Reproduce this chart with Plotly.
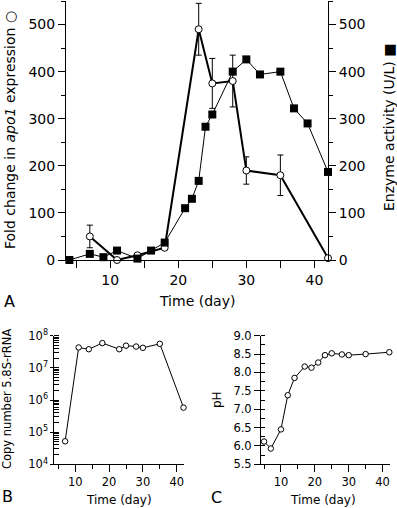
import plotly.graph_objects as go

# ---------------- data ----------------
# Panel A: apo1 expression (open circles, with error bars)
apo_day = [7, 11, 14, 18, 23, 25, 28, 30, 35, 42]
apo_fold = [50, 0, 10, 26, 490, 375, 380, 190, 180, 4]
apo_err = [24, 0, 0, 0, 55, 53, 55, 29, 43, 0]

# Panel A: enzyme activity (filled squares)
enz_day = [4, 7, 9, 11, 14, 16, 18, 21, 22, 23, 24, 25, 28, 30, 32, 35, 37, 39, 42]
enz_act = [0, 13, 6, 20, 3, 20, 37, 110, 130, 168, 283, 309, 400, 426, 394, 400, 322, 290, 187]

# Panel B: copy number 5.8S-rRNA
cop_day = [7, 11, 14, 18, 23, 25, 28, 30, 35, 42]
cop_num = [5.2e4, 4.3e7, 3.8e7, 5.9e7, 3.8e7, 4.9e7, 4.6e7, 4.2e7, 5.6e7, 5.8e5]

# Panel C: pH
ph_day = [5, 7, 10, 12, 14, 17, 19, 21, 23, 25, 28, 30, 35, 42]
ph_val = [6.12, 5.93, 6.45, 7.38, 7.85, 8.16, 8.13, 8.27, 8.47, 8.52, 8.49, 8.47, 8.50, 8.55]

x_ticks = [10, 20, 30, 40]
logB_tickvals = [1e4, 1e5, 1e6, 1e7, 1e8]
logB_ticktext = ["10<sup>4</sup>", "10<sup>5</sup>", "10<sup>6</sup>", "10<sup>7</sup>", "10<sup>8</sup>"]

FONT = "DejaVu Sans"
W, H = 397, 508

def px(x):
    return x / W

def py(y):
    return 1 - y / H

fig = go.Figure()

# Panel A traces
fig.add_trace(go.Scatter(
    x=enz_day, y=enz_act, mode="lines+markers", yaxis="y2", xaxis="x",
    line=dict(color="black", width=1),
    marker=dict(symbol="square", size=8, color="black"),
    showlegend=False, cliponaxis=False))
fig.add_trace(go.Scatter(
    x=apo_day, y=apo_fold, mode="lines+markers", xaxis="x", yaxis="y",
    line=dict(color="black", width=2),
    marker=dict(symbol="circle", size=7, color="white", line=dict(color="black", width=1)),
    error_y=dict(type="data", array=apo_err, color="black", thickness=1, width=3),
    showlegend=False, cliponaxis=False))

# Panel B
fig.add_trace(go.Scatter(
    x=cop_day, y=cop_num, mode="lines+markers", xaxis="x3", yaxis="y3",
    line=dict(color="black", width=1),
    marker=dict(symbol="circle", size=5.5, color="white", line=dict(color="black", width=1)),
    showlegend=False, cliponaxis=False))

# Panel C
fig.add_trace(go.Scatter(
    x=ph_day, y=ph_val, mode="lines+markers", xaxis="x4", yaxis="y4",
    line=dict(color="black", width=1),
    marker=dict(symbol="circle", size=5.5, color="white", line=dict(color="black", width=1)),
    showlegend=False, cliponaxis=False))

axA = dict(showline=True, linecolor="black", linewidth=1, showgrid=False, zeroline=False,
           automargin=False,
           ticks="outside", tickcolor="black", ticklen=7, tickwidth=1,
           tickfont=dict(family=FONT, size=14, color="black"))
axS = dict(showline=True, linecolor="black", linewidth=1, showgrid=False, zeroline=False,
           automargin=False,
           ticks="outside", tickcolor="black", tickwidth=1,
           tickfont=dict(family=FONT, size=11.5, color="black"))

fig.update_layout(
    width=W, height=H, margin=dict(l=0, r=0, t=0, b=0, autoexpand=False),
    paper_bgcolor="white", plot_bgcolor="white",
    font=dict(family=FONT, color="black"),
    xaxis=dict(**axA, domain=[px(66), px(328)], range=[3.5, 42], anchor="y",
               tickvals=x_ticks, minor=dict(dtick=5, tick0=0, ticks="outside", ticklen=7, tickcolor="black")),
    yaxis=dict(**axA, domain=[py(260), py(1)], range=[0, 550], anchor="x",
               dtick=100, minor=dict(dtick=50, ticks="outside", ticklen=4, tickcolor="black")),
    yaxis2=dict(**axA, range=[0, 550], overlaying="y", side="right", anchor="x",
                dtick=100, minor=dict(dtick=50, ticks="outside", ticklen=4, tickcolor="black")),
    xaxis3=dict(**axS, domain=[px(54.3), px(183.5)], range=[3.8, 42], anchor="y3",
                tickvals=x_ticks, ticklen=7,
                minor=dict(dtick=5, tick0=0, ticks="outside", ticklen=4, tickcolor="black")),
    yaxis3=dict(**axS, type="log", domain=[py(464.3), py(335.7)], range=[4, 8], anchor="x3",
                tickvals=logB_tickvals, ticktext=logB_ticktext, ticklen=3,
                minor=dict(dtick="D1", ticks="inside", ticklen=5, tickcolor="black")),
    xaxis4=dict(**axS, domain=[px(261), px(390)], range=[4.1, 42.2], anchor="y4",
                tickvals=x_ticks, ticklen=7,
                minor=dict(dtick=5, tick0=0, ticks="outside", ticklen=4, tickcolor="black")),
    yaxis4=dict(**axS, domain=[py(464.3), py(335.7)], range=[5.5, 9.0], anchor="x4",
                dtick=0.5, tickformat=".1f", ticklen=6,
                minor=dict(dtick=0.25, ticks="inside", ticklen=4, tickcolor="black")),
)

ann = []
def add_text(text, x, y, size, angle=0):
    ann.append(dict(text=text, x=px(x), y=py(y), xref="paper", yref="paper",
                    showarrow=False, textangle=angle, xanchor="center", yanchor="middle",
                    font=dict(family=FONT, size=size, color="black")))

add_text("Fold change in <i>apo1</i> expression ○", 10, 130, 14, -90)
add_text("Enzyme activity (U/L) ■", 389, 128, 14, -90)
add_text("Time (day)", 197, 301, 14)
add_text("A", 9, 301, 16)
add_text("Copy number 5.8S-rRNA", 7, 399, 11.5, -90)
add_text("Time (day)", 119, 500, 12)
add_text("B", 7, 496, 16)
add_text("pH", 217, 400, 12, -90)
add_text("Time (day)", 323, 500, 12)
add_text("C", 216, 497, 16)
fig.update_layout(annotations=ann)

fig.write_html(
    "out.html",
    config={"displayModeBar": False},
    post_script="document.body.style.margin='0';document.body.style.padding='0';document.body.style.overflow='hidden';",
)
